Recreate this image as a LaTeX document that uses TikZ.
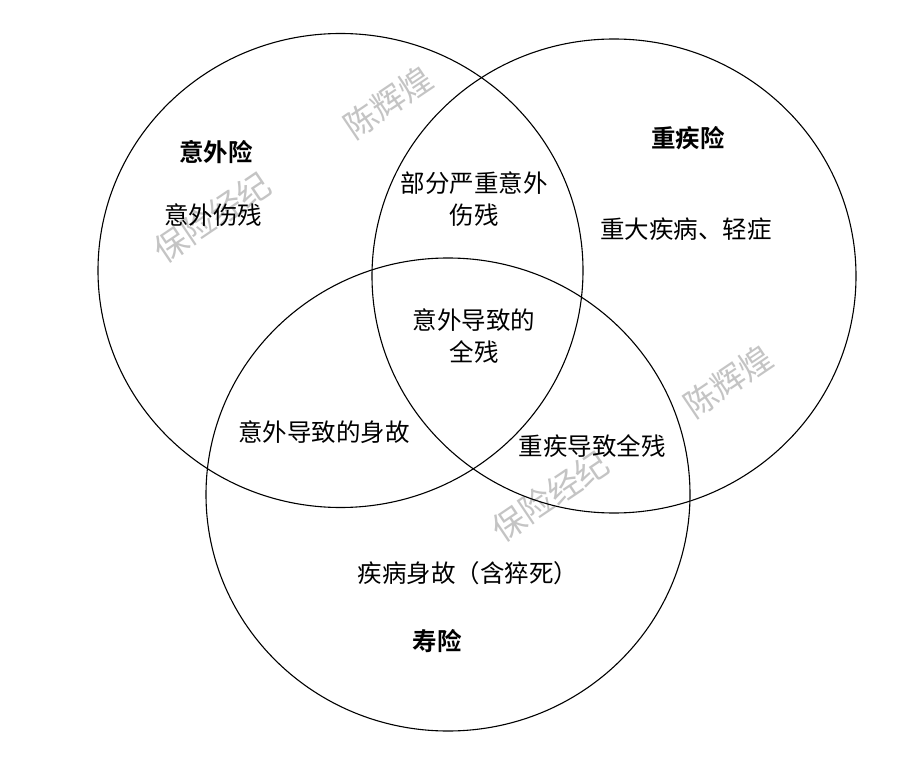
\documentclass[tikz,border=0pt]{standalone}
\usepackage{fontspec}
\setmainfont{Noto Sans CJK SC}[BoldFont={Noto Sans CJK SC Bold}]
\usepackage{xcolor}
\definecolor{VennLine}{HTML}{000000}
\definecolor{MarkGray}{HTML}{C4C4C4}
\tikzset{
  venn/.style={VennLine,line width=1.1pt},
  lbl/.style={anchor=center,align=center,inner sep=0pt,font=\fontsize{24.5}{32}\selectfont},
  head/.style={lbl,font=\fontsize{24.5}{32}\selectfont\bfseries},
  wmark/.style={anchor=center,inner sep=0pt,text=MarkGray,rotate=34,font=\fontsize{33}{33}\selectfont}
}
\begin{document}
\begin{tikzpicture}[x=1pt,y=-1pt]
\path[use as bounding box,fill=white] (0,0) rectangle (921,767);
% watermarks
\node[wmark] (mA) at (388,102) {陈辉煌};
\node[wmark] (mB) at (212,217) {保险经纪};
\node[wmark] (mC) at (728,381) {陈辉煌};
\node[wmark] (mD) at (550,496) {保险经纪};
% the three sets
\draw[venn] (340.5,270.5) ellipse [x radius=242.5pt, y radius=237pt];
\draw[venn] (614,276) ellipse [x radius=242pt, y radius=237pt];
\draw[venn] (448,494.5) ellipse [x radius=242pt, y radius=236.5pt];
% set names
\node[head] (yiwai) at (216,152) {意外险};
\node[head] (zhongji) at (688,138) {重疾险};
\node[head] (shou) at (437,641) {寿险};
% regions
\node[lbl] (shangcan) at (213,215) {意外伤残};
\node[lbl] (bufen) at (474,199) {部分严重意外\\伤残};
\node[lbl] (dabing) at (686,229) {重大疾病、轻症};
\node[lbl] (quancan) at (474,336) {意外导致的\\全残};
\node[lbl] (shengu) at (324,432) {意外导致的身故};
\node[lbl] (jican) at (592,446) {重疾导致全残};
\node[lbl] (jibing) at (468,573) {疾病身故（含猝死）};
\end{tikzpicture}
\end{document}
